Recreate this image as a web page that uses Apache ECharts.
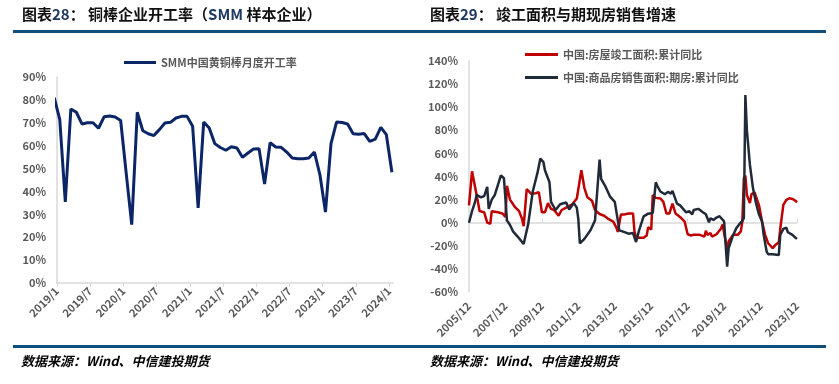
<!DOCTYPE html>
<html><head><meta charset="utf-8">
<script src="https://cdn.jsdelivr.net/npm/echarts@6/dist/echarts.min.js"></script>
<style>html,body{margin:0;padding:0;background:#fff}#c{width:839px;height:384px}</style>
</head><body><div id="c"></div>
<script>
// ---- Left chart: SMM brass rod monthly operating rate (%) ----
const rateMonths = ['2018/12','2019/01','2019/02','2019/03','2019/04','2019/05','2019/06','2019/07','2019/08','2019/09','2019/10','2019/11','2019/12',
  '2020/01','2020/02','2020/03','2020/04','2020/05','2020/06','2020/07','2020/08','2020/09','2020/10','2020/11','2020/12',
  '2021/01','2021/02','2021/03','2021/04','2021/05','2021/06','2021/07','2021/08','2021/09','2021/10','2021/11','2021/12',
  '2022/01','2022/02','2022/03','2022/04','2022/05','2022/06','2022/07','2022/08','2022/09','2022/10','2022/11','2022/12',
  '2023/01','2023/02','2023/03','2023/04','2023/05','2023/06','2023/07','2023/08','2023/09','2023/10','2023/11','2023/12','2024/01'];
const rateValues = [81,71.4,35.4,76,74.6,69.5,70,70,67.6,72.6,73,72.5,71,
  48,25.5,74.6,66.5,65.2,64.4,67,69.9,70.2,72.1,72.8,72.8,
  68.5,32.8,70.3,67.7,60.9,59.2,58,59.5,59,54.9,56.8,58.5,
  58.7,43.2,61.3,59.4,59.3,57.2,54.6,54.3,54.3,54.6,57.2,47.3,
  31,60.9,70.3,70.1,69.5,65.2,65,65.3,61.9,62.9,68,64.8,48.4];
const leftYTicks = [0,10,20,30,40,50,60,70,80,90];
const leftXLabels = ['2019/1','2019/7','2020/1','2020/7','2021/1','2021/7','2022/1','2022/7','2023/1','2023/7','2024/1'];

// ---- Right chart: completion area YoY & off-plan sales area YoY (%) ----
const completionMonths = ['2005/12','2006/02','2006/04','2006/06','2006/07','2006/10','2006/12','2007/02','2007/03','2007/07','2007/10','2007/12',
  '2008/01','2008/03','2008/06','2008/09','2008/11','2008/12','2009/01','2009/02','2009/05','2009/08','2009/10','2009/11','2009/12',
  '2010/02','2010/04','2010/06','2010/08','2010/11','2011/01','2011/04','2011/08','2011/11','2011/12',
  '2012/02','2012/04','2012/06','2012/09','2012/11','2013/02','2013/05','2013/08','2013/11',
  '2014/01','2014/02','2014/03','2014/04','2014/06','2014/09','2014/12','2015/01','2015/02','2015/04','2015/07','2015/09','2015/10','2015/12',
  '2016/01','2016/03','2016/06','2016/08','2016/10','2016/12','2017/02','2017/04','2017/07','2017/10','2017/12',
  '2018/02','2018/04','2018/08','2018/11','2018/12','2019/01','2019/03','2019/04','2019/07','2019/10','2019/11',
  '2020/02','2020/03','2020/06','2020/09','2020/11','2020/12','2021/01','2021/02','2021/03','2021/05','2021/06','2021/08','2021/09','2021/11',
  '2022/01','2022/03','2022/05','2022/08','2022/10','2022/12','2023/01','2023/03','2023/05','2023/07','2023/09','2023/11','2023/12'];
const completionYoY = [15,44.5,31,17,10,9,0,-1,10,9,8,5,
  32,20,14,10,3,-3,-3,29,25,25.5,26.5,25,9,
  9,17,12,11,6,11,13,16,21,20,
  45.5,30,22,19,11,7.5,6,3,1,
  -4,-8,-7,7,7,8,8,-8,-12,-13,-13,-11,-4,-6,
  24,21.5,21,18,8,8,16.5,8,5,1,-10,
  -11,-10.5,-10.5,-12,-7,-10.5,-9,-12,-10,-5,-1.5,
  -23.6,-16,-10.5,-10.5,-7.5,1,38.5,40.8,24,17,24.6,26.4,22.6,15,
  1,-10.5,-17.8,-22,-19,-17,-5,15.4,19.7,21.2,20.6,19,17.7];
const salesMonths = ['2005/12','2006/02','2006/04','2006/05','2006/06','2006/08','2006/10','2006/12','2007/01','2007/03','2007/05','2007/09','2007/11',
  '2008/01','2008/03','2008/05','2008/08','2008/12','2009/03','2009/06','2009/09','2009/11','2010/01','2010/02','2010/05','2010/06','2010/09','2010/12',
  '2011/04','2011/06','2011/09','2011/11','2011/12','2012/01','2012/04','2012/08','2012/11','2012/12',
  '2013/02','2013/03','2013/06','2013/09','2013/12','2014/02','2014/03','2014/06','2014/09','2014/12',
  '2015/02','2015/04','2015/07','2015/10','2016/01','2016/03','2016/04','2016/06','2016/09','2016/11',
  '2017/01','2017/02','2017/05','2017/07','2017/09','2017/11','2018/01','2018/03','2018/04','2018/07','2018/10','2018/12',
  '2019/02','2019/03','2019/05','2019/07','2019/09','2019/12','2020/02','2020/03','2020/06','2020/08','2020/10','2020/12',
  '2021/01','2021/02','2021/03','2021/05','2021/07','2021/09','2021/11','2022/01','2022/02','2022/04','2022/05','2022/08','2022/12',
  '2023/01','2023/03','2023/05','2023/06','2023/09','2023/11','2023/12'];
const salesYoY = [0,10,18,24,25,22,23,31,12,20,24,41,38.5,
  2,-2,-7.5,-12,-18.5,-1,27,42.7,55.5,52.5,45.4,35,18,11,16,
  17.5,11.5,17,13,3,-18,-14,-6.6,2,3.5,
  54.6,38,31,22.3,18,2,-6.6,-8,-9.5,-9,
  -16.7,-6.6,5.5,7.8,8.4,35,32,27,24.6,26.7,
  25.2,27.5,16.5,15,12,9,10,7.3,11,12,9,7.3,
  0.4,3.8,2.4,4.4,5.6,1,-38,-22,-10.6,-4.8,-1.3,1.5,
  4,110.5,80,50,30,17,7,1,-10,-25,-27.3,-27.3,-28,
  -10.6,-5.4,-4.2,-8.3,-10.6,-13,-14];
const rightYTicks = [-60,-40,-20,0,20,40,60,80,100,120,140];
const rightXLabels = ['2005/12','2007/12','2009/12','2011/12','2013/12','2015/12','2017/12','2019/12','2021/12','2023/12'];

// ---- helpers ----
const FONT = '"Noto Sans CJK SC", "Noto Sans", sans-serif';
function leftX(s){ const [y,m]=s.split('/').map(Number); return (y-2019)*12+(m-1)+0.5; } // mid-month
function rightX(s){ const [y,m]=s.split('/').map(Number); return (y-2005)*12+(m-12); }
function lblToLeft(s){ const [y,m]=s.split('/').map(Number); return (y-2019)*12+(m-1); }
function lblToRight(s){ const [y,m]=s.split('/').map(Number); return (y-2005)*12+(m-12); }
const leftTickVals = leftXLabels.map(lblToLeft);
const rightTickVals = rightXLabels.map(lblToRight);

const axisGray = '#d9d9d9';
const lblStyle = {color:'#595959', fontSize:11, fontWeight:'bold', fontFamily:FONT};

const chart = echarts.init(document.getElementById('c'), null, {renderer:'canvas'});
const titleRich = {
  c:{fontSize:15, fontWeight:'bold', color:'#111', fontFamily:FONT},
  n:{fontSize:15, fontWeight:'bold', color:'#1f3864', fontFamily:FONT}
};
chart.setOption({
  animation:false,
  backgroundColor:'#fff',
  title:[
    {left:22, top:7, padding:0, text:'{c|图表}{n|28}{c|： 铜棒企业开工率（}{n|SMM}{c| 样本企业）}', textStyle:{rich:titleRich}},
    {left:430, top:7, padding:0, text:'{c|图表}{n|29}{c|： 竣工面积与期现房销售增速}', textStyle:{rich:titleRich}}
  ],
  graphic:[
    {type:'rect', shape:{x:13,y:30,width:813,height:3}, style:{fill:'#0f4f7e'}},
    {type:'rect', shape:{x:13,y:345,width:813,height:3}, style:{fill:'#0f4f7e'}},
    {type:'text', x:21, y:355, style:{text:'数据来源：Wind、中信建投期货', fontSize:13, fontWeight:'bold', fontStyle:'italic', fill:'#000', fontFamily:FONT}},
    {type:'text', x:430, y:355, style:{text:'数据来源：Wind、中信建投期货', fontSize:13, fontWeight:'bold', fontStyle:'italic', fill:'#000', fontFamily:FONT}}
  ],
  legend:[
    {left:124, top:57, icon:'rect', itemWidth:32, itemHeight:3, padding:0, data:['SMM中国黄铜棒月度开工率'], textStyle:lblStyle},
    {left:525, top:49, orient:'vertical', icon:'rect', itemWidth:33, itemHeight:3, itemGap:12, padding:0,
     data:['中国:房屋竣工面积:累计同比','中国:商品房销售面积:期房:累计同比'], textStyle:lblStyle}
  ],
  grid:[
    {left:57, top:77, width:336, height:206},
    {left:469, top:61, width:328, height:231}
  ],
  xAxis:[
    {type:'value', gridIndex:0, min:0, max:60.7,
     axisLine:{show:true, lineStyle:{color:axisGray, width:1.5}},
     axisTick:{show:true, customValues:leftTickVals, length:4, lineStyle:{color:axisGray}},
     axisLabel:Object.assign({customValues:leftTickVals, rotate:45, margin:6,
       formatter:v=>leftXLabels[leftTickVals.indexOf(Math.round(v))]||''}, lblStyle),
     splitLine:{show:false}},
    {type:'value', gridIndex:1, min:0, max:216,
     axisLine:{show:false, onZero:false}, axisTick:{show:false},
     axisLabel:Object.assign({customValues:rightTickVals, rotate:45, margin:12,
       formatter:v=>rightXLabels[rightTickVals.indexOf(Math.round(v))]||''}, lblStyle),
     splitLine:{show:false}},
    {type:'value', gridIndex:1, min:0, max:216,
     axisLine:{show:true, onZero:true, lineStyle:{color:axisGray, width:1.5}},
     axisTick:{show:true, customValues:rightTickVals, length:4, lineStyle:{color:axisGray}},
     axisLabel:{show:false}, splitLine:{show:false}}
  ],
  yAxis:[
    {type:'value', gridIndex:0, min:0, max:90, interval:10,
     axisLine:{show:true, lineStyle:{color:axisGray, width:1.5}}, axisTick:{show:false},
     axisLabel:Object.assign({margin:11, formatter:'{value}%'}, lblStyle), splitLine:{show:false}},
    {type:'value', gridIndex:1, min:-60, max:140, interval:20,
     axisLine:{show:true, lineStyle:{color:axisGray, width:1.5}}, axisTick:{show:false},
     axisLabel:Object.assign({margin:11, formatter:'{value}%'}, lblStyle), splitLine:{show:false}}
  ],
  series:[
    {name:'SMM中国黄铜棒月度开工率', type:'line', xAxisIndex:0, yAxisIndex:0, showSymbol:false, clip:true,
     lineStyle:{color:'#0b2566', width:3}, itemStyle:{color:'#0b2566'},
     data:rateMonths.map((m,i)=>[leftX(m), rateValues[i]])},
    {name:'中国:房屋竣工面积:累计同比', type:'line', xAxisIndex:1, yAxisIndex:1, showSymbol:false,
     lineStyle:{color:'#c00000', width:2.5}, itemStyle:{color:'#c00000'},
     data:completionMonths.map((m,i)=>[rightX(m), completionYoY[i]])},
    {name:'中国:商品房销售面积:期房:累计同比', type:'line', xAxisIndex:1, yAxisIndex:1, showSymbol:false,
     lineStyle:{color:'#202a38', width:2.5}, itemStyle:{color:'#202a38'},
     data:salesMonths.map((m,i)=>[rightX(m), salesYoY[i]])}
  ]
});
</script></body></html>
